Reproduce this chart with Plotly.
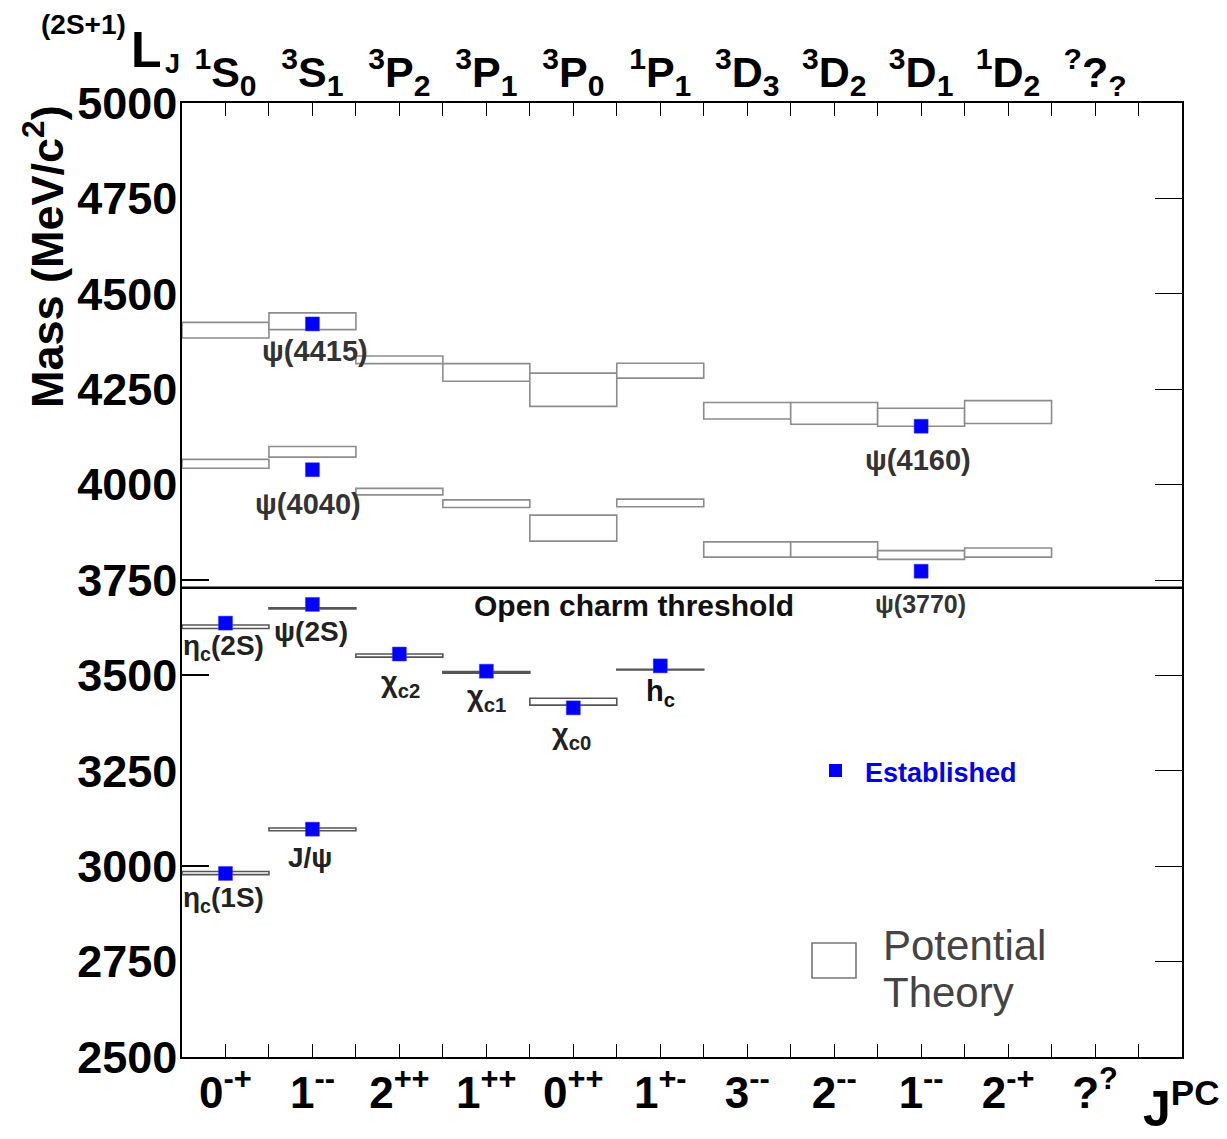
import plotly.graph_objects as go

# ---------------- data ----------------
jpc_labels = ["0<sup>-+</sup>", "1<sup>--</sup>", "2<sup>++</sup>", "1<sup>++</sup>", "0<sup>++</sup>",
              "1<sup>+-</sup>", "3<sup>--</sup>", "2<sup>--</sup>", "1<sup>--</sup>", "2<sup>-+</sup>", "?<sup>?</sup>"]
term_labels = ["<sup>1</sup>S<sub>0</sub>", "<sup>3</sup>S<sub>1</sub>", "<sup>3</sup>P<sub>2</sub>",
               "<sup>3</sup>P<sub>1</sub>", "<sup>3</sup>P<sub>0</sub>", "<sup>1</sup>P<sub>1</sub>",
               "<sup>3</sup>D<sub>3</sub>", "<sup>3</sup>D<sub>2</sub>", "<sup>3</sup>D<sub>1</sub>",
               "<sup>1</sup>D<sub>2</sub>", "<sup>?</sup>?<sub>?</sub>"]

# Potential-theory predictions (category index, low mass, high mass) in MeV/c^2
theory_cat = [0, 1, 2, 3, 4, 5,
              0, 1,
              0, 1, 2, 3, 4, 5, 6, 7, 8, 9,
              0, 1, 2, 3, 4, 5, 6, 7, 8, 9]
theory_lo = [2978, 3093, 3548, 3506, 3422, 3514,
             3623, 3674,
             4043, 4072, 3973, 3940, 3852, 3942, 3810, 3810, 3804, 3810,
             4384, 4406, 4317, 4271, 4205, 4279, 4172, 4158, 4153, 4160]
theory_hi = [2986, 3100, 3556, 3510, 3440, 3516,
             3632, 3677,
             4066, 4100, 3990, 3960, 3920, 3962, 3850, 3850, 3827, 3834,
             4425, 4450, 4337, 4317, 4292, 4318, 4215, 4215, 4200, 4220]

# Established states (category index, mass)
est_cat = [0, 1, 0, 1, 2, 3, 4, 5, 8, 1, 8, 1]
est_mass = [2981, 3097, 3637, 3686, 3556, 3511, 3415, 3525, 3773, 4039, 4153, 4421]

threshold_mass = 3730
y_ticks = [2500, 2750, 3000, 3250, 3500, 3750, 4000, 4250, 4500, 4750, 5000]
left_ticks = [3000, 3500, 3750]

# ---------------- figure ----------------
OFF = 8  # page body margin
W, H = 1227 - OFF, 1139 - OFF
ML, MR, MT, MB = 182 - OFF, 45, 103 - OFF, 82
PW, PH = W - ML - MR, H - MT - MB

def px(x):  # reference pixel -> paper
    return (x - OFF - ML) / PW

def py(y):
    return (H - MB - (y - OFF)) / PH

FONT = "Liberation Sans Narrow, Arial Narrow, Liberation Sans, Arial, sans-serif"
FONT2 = "Liberation Sans, Arial, sans-serif"

fig = go.Figure()

shapes = []
for c, lo, hi in zip(theory_cat, theory_lo, theory_hi):
    col = "#555555" if hi < threshold_mass else "#8c8c8c"
    shapes.append(dict(type="rect", xref="x", yref="y", x0=c, x1=c + 1, y0=lo, y1=hi,
                       line=dict(color=col, width=1.6), fillcolor="white", layer="below"))

# threshold line
shapes.append(dict(type="line", xref="paper", yref="y", x0=0, x1=1,
                   y0=threshold_mass, y1=threshold_mass, line=dict(color="black", width=2.5)))

# legend items
shapes.append(dict(type="rect", xref="paper", yref="paper", x0=px(829), x1=px(842),
                   y0=py(777), y1=py(764), fillcolor="#0000ff", line=dict(width=0)))
shapes.append(dict(type="rect", xref="paper", yref="paper", x0=px(812), x1=px(856),
                   y0=py(978), y1=py(943), fillcolor="white", line=dict(color="#777777", width=1.6)))

fig.add_trace(go.Scatter(
    x=[c + 0.5 for c in est_cat], y=est_mass, mode="markers",
    marker=dict(symbol="square", size=14, color="#0000ff", line=dict(color="#3a3aff", width=0.5)),
    showlegend=False, hoverinfo="skip"))

# invisible traces so the extra axes are drawn
fig.add_trace(go.Scatter(x=[0.5], y=[2400], xaxis="x2", mode="markers",
                         marker=dict(opacity=0), showlegend=False, hoverinfo="skip"))
fig.add_trace(go.Scatter(x=[0.5], y=[2400], yaxis="y2", mode="markers",
                         marker=dict(opacity=0), showlegend=False, hoverinfo="skip"))

ann = []
def lab(x, y, text, size, color="#333333", bold=True, xanchor="center"):
    ann.append(dict(x=x, y=y, xref="x", yref="y", text=text, showarrow=False,
                    xanchor=xanchor, yanchor="middle",
                    font=dict(family=FONT2, size=size, color=color, weight="bold" if bold else "normal")))

lab(1.53, 4350, "ψ(4415)", 29)
lab(1.45, 3949, "ψ(4040)", 29)
lab(8.46, 4064, "ψ(4160)", 29)
lab(8.49, 3687, "ψ(3770)", 25)
lab(5.2, 3682, "Open charm threshold", 30, color="#111111")
lab(0.48, 3574, "η<sub>c</sub>(2S)", 28, color="#222222")
lab(1.48, 3616, "ψ(2S)", 28, color="#222222")
lab(2.51, 3478, "χ<sub>c2</sub>", 29, color="#222222")
lab(3.5, 3441, "χ<sub>c1</sub>", 29, color="#222222")
lab(4.48, 3341, "χ<sub>c0</sub>", 29, color="#222222")
lab(5.5, 3455, "h<sub>c</sub>", 29, color="#111111")
lab(1.47, 3024, "J/ψ", 28, color="#222222")
lab(0.48, 2914, "η<sub>c</sub>(1S)", 28, color="#222222")

def pann(x, y, text, size, color="black", bold=True, xanchor="left", yanchor="middle", angle=0, family=FONT2):
    ann.append(dict(x=px(x), y=py(y), xref="paper", yref="paper", text=text, showarrow=False,
                    xanchor=xanchor, yanchor=yanchor, textangle=angle,
                    font=dict(family=family, size=size, color=color, weight="bold" if bold else "normal")))

pann(863, 773, "Established", 27, color="#0000ee")
pann(881, 945, "Potential", 42, color="#444444", bold=False)
pann(881, 992, "Theory", 42, color="#444444", bold=False)
pann(44, 257, "Mass (MeV/c<sup>2</sup>)", 45, xanchor="center", angle=-90)
pann(1141, 1105, "J<sup>PC</sup>", 50, family=FONT)
pann(39, 24, "(2S+1)", 28, family=FONT)
pann(129, 50, "L", 50, family=FONT)
pann(163, 64, "J", 27, family=FONT)

fig.update_layout(
    width=W, height=H, margin=dict(l=ML, r=MR, t=MT, b=MB, autoexpand=False),
    paper_bgcolor="white", plot_bgcolor="white",
    shapes=shapes, annotations=ann, showlegend=False,
    xaxis=dict(range=[0, 11.5], tickmode="array", tickvals=[i + 0.5 for i in range(11)],
               ticktext=jpc_labels, ticks="inside", ticklen=13, tickcolor="black",
               showgrid=False, zeroline=False, showline=True, linecolor="black", linewidth=1.5,
               mirror=True, ticklabelstandoff=-4, automargin=False,
               tickfont=dict(family=FONT, size=44, color="black", weight="bold"),
               minor=dict(tickmode="linear", tick0=0, dtick=1, ticks="inside", ticklen=13, tickcolor="black")),
    xaxis2=dict(range=[0, 11.5], overlaying="x", side="top", tickmode="array",
                tickvals=[i + 0.5 for i in range(11)], ticktext=term_labels,
                ticks="inside", ticklen=13, tickcolor="black", showgrid=False, zeroline=False,
                showline=False, ticklabelstandoff=6, automargin=False,
                tickfont=dict(family=FONT, size=43, color="black", weight="bold"),
                minor=dict(tickmode="linear", tick0=0, dtick=1, ticks="inside", ticklen=13, tickcolor="black")),
    yaxis=dict(range=[2500, 5000], tickmode="array", tickvals=y_ticks,
               ticktext=[str(v) for v in y_ticks], ticks="inside", ticklen=0, tickcolor="black",
               showgrid=False, zeroline=False, showline=True, linecolor="black", linewidth=1.5,
               mirror=True, ticklabelstandoff=-6, automargin=False,
               tickfont=dict(family=FONT2, size=45, color="black", weight="bold"),
               minor=dict(tickmode="array", tickvals=left_ticks, ticks="inside", ticklen=27,
                          tickcolor="black", tickwidth=1.5, showgrid=False)),
    yaxis2=dict(range=[2500, 5000], overlaying="y", side="right", tickmode="array", tickvals=y_ticks,
                ticks="inside", ticklen=27, tickcolor="black", showticklabels=False,
                showgrid=False, zeroline=False, showline=False, automargin=False),
)

fig.write_html("out.html")
